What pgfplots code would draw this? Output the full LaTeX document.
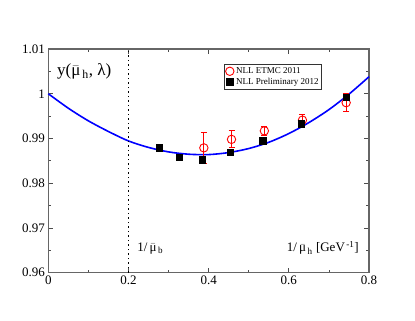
\documentclass[border=0pt]{standalone}
\usepackage{fontspec}
\setmainfont{Liberation Serif}
\usepackage{pgfplots}
\pgfplotsset{compat=1.18}
\newcommand{\mub}{\(\bar{\hbox{μ}}\)}
\begin{document}
\begin{tikzpicture}
\begin{axis}[
  scale only axis, width=320.7pt, height=223.7pt,
  xmin=0, xmax=0.8, ymin=0.96, ymax=1.01,
  xtick={0,0.2,0.4,0.6,0.8}, xticklabels={0,0.2,0.4,0.6,0.8},
  ytick={0.96,0.97,0.98,0.99,1,1.01}, yticklabels={0.96,0.97,0.98,0.99,1,1.01},
  minor x tick num=1, minor y tick num=1,
  tick align=inside, tick pos=both, xticklabel pos=bottom, yticklabel pos=left,
  axis line style={black!60, line width=1.2pt},
  every tick/.style={black!70, line width=0.8pt},
  major tick length=5pt, minor tick length=3pt,
  tick label style={font=\fontsize{13}{13}\selectfont},
  /pgf/number format/assume math mode=true,
  legend style={at={(rel axis cs:0.549,0.9316)}, anchor=north west,
    draw=black!80, line width=0.5pt, font=\fontsize{9}{10}\selectfont,
    inner sep=1pt, row sep=-1pt, cells={anchor=west}},
  legend cell align=left,
  clip=false,
]
% curve
\addplot[blue, line width=1.6pt, smooth, forget plot] coordinates {
(0,1.0000) (0.05,0.99676) (0.1,0.99394) (0.15,0.99156) (0.2,0.98945)
(0.25,0.98800) (0.3,0.98700) (0.35,0.98648) (0.4,0.98640) (0.45,0.98685)
(0.5,0.98775) (0.55,0.98915) (0.6,0.99110) (0.65,0.99355) (0.7,0.99645)
(0.75,0.99990) (0.8,1.0038)};
% dotted line
\addplot[black, line width=1.5pt, dash pattern=on 1.5pt off 3pt, forget plot] coordinates {(0.2,0.96) (0.2,1.01)};
% ETMC 2011
\addplot[red, only marks, mark=o, mark size=4.2pt, line width=0.9pt,
  error bars/.cd, y dir=both, y explicit,
  error bar style={red, line width=0.9pt}, error mark options={red, line width=0.9pt, mark size=3pt, rotate=90}]
  coordinates {
(0.388,0.9879) +- (0,0.0034)
(0.457,0.9898) +- (0,0.0019)
(0.539,0.9917) +- (0,0.0010)
(0.634,0.9941) +- (0,0.0013)
(0.743,0.9980) +- (0,0.0020)};
\addlegendentry{NLL ETMC 2011}
% Preliminary 2012
\addplot[black, only marks, mark=square*, mark size=3.2pt,
  error bars/.cd, y dir=both, y explicit,
  error bar style={black, line width=0.9pt}, error mark options={black, line width=0.9pt, mark size=2.5pt, rotate=90}]
  coordinates {
(0.277,0.9879) +- (0,0.0008)
(0.327,0.9858) +- (0,0.0003)
(0.384,0.9853) +- (0,0.0004)
(0.454,0.9869) +- (0,0.0003)
(0.535,0.9895) +- (0,0.0003)
(0.631,0.9933) +- (0,0.0003)
(0.743,0.9992) +- (0,0.0003)};
\addlegendentry{NLL Preliminary 2012}
\node[anchor=west, font=\fontsize{17}{17}\selectfont, inner sep=0pt] at (axis cs:0.0217,1.0050)
  {y(\mub\textsubscript{\,h}, λ)};
\node[anchor=west, font=\fontsize{13}{13}\selectfont, inner sep=0pt] at (axis cs:0.2215,0.9654)
  {1/\,\mub\textsubscript{\,b}};
\node[anchor=east, font=\fontsize{13}{13}\selectfont, inner sep=0pt] at (axis cs:0.7751,0.9655)
  {1/\,\mub\textsubscript{\,h} [GeV\textsuperscript{\,-1}]};
\end{axis}
\path ([shift={(-48.3pt,-48.3pt)}]current axis.south west) rectangle ([shift={(46pt,49pt)}]current axis.north east);
\end{tikzpicture}
\end{document}
